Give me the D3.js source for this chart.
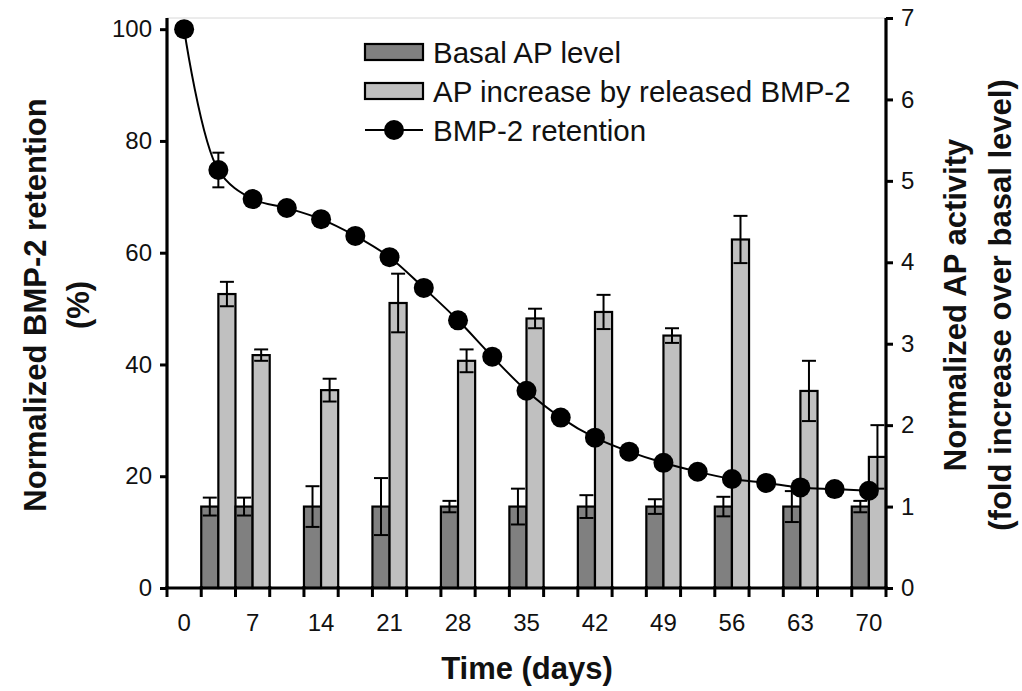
<!DOCTYPE html>
<html>
<head>
<meta charset="utf-8">
<script src="https://cdn.jsdelivr.net/npm/d3@7"></script>
<style>
  body { margin: 0; background: #fff; }
  text { font-family: "Liberation Sans", Arial, sans-serif; fill: #111; }
</style>
</head>
<body>
<div id="chart-area"></div>
<script>
// categories (days), only every second one gets a label
var days = ["0","3","7","10","14","17","21","24","28","31","35","38","42","45","49","52","56","59","63","66","70"];
var dayLabels = ["0","7","14","21","28","35","42","49","56","63","70"];

// BMP-2 retention (%), left axis
var retention = [100, 74.8, 69.6, 68.0, 66.0, 63.0, 59.2, 53.7, 47.9, 41.4, 35.3, 30.5, 26.9, 24.4, 22.4, 20.8, 19.5, 18.8, 18.0, 17.7, 17.4];
var retentionErr = [0, 3.1, 0, 0, 0, 0, 0, 0, 0, 0, 0, 0, 0, 0, 0, 0, 0, 0, 0, 0, 0];

// AP activity (fold over basal), right axis
var barDays = ["3","7","14","21","28","35","42","49","56","63","70"];
var basal = [1, 1, 1, 1, 1, 1, 1, 1, 1, 1, 1];
var basalErr = [0.11, 0.11, 0.25, 0.35, 0.07, 0.22, 0.14, 0.09, 0.12, 0.19, 0.07];
var increase = [3.61, 2.86, 2.43, 3.50, 2.79, 3.31, 3.39, 3.10, 4.28, 2.42, 1.61];
var increaseErr = [0.15, 0.07, 0.14, 0.36, 0.14, 0.12, 0.21, 0.09, 0.29, 0.37, 0.39];

var leftTicks = [0, 20, 40, 60, 80, 100];
var rightTicks = [0, 1, 2, 3, 4, 5, 6, 7];

var width = 1022, height = 691;
var plotL = 167, plotR = 886, plotT = 18, plotB = 588;

var svg = d3.select("#chart-area").append("svg")
    .attr("width", width)
    .attr("height", height);

var x = d3.scaleBand().domain(days).range([plotL, plotR]).padding(0);
var xSub = d3.scaleBand().domain(["basal", "increase"]).range([0, x.bandwidth()]).padding(0);
var yL = d3.scaleLinear().domain([0, 102]).range([plotB, plotT]);
var yR = d3.scaleLinear().domain([0, 7]).range([plotB, plotT]);

// faint plot border on top
svg.append("line")
    .attr("x1", plotL).attr("x2", plotR)
    .attr("y1", plotT).attr("y2", plotT)
    .attr("stroke", "#d8d8d8").attr("stroke-width", 1);

// bars
var bars = barDays.map(function(d, i) {
    return [
        {day: d, key: "basal", v: basal[i], e: basalErr[i], fill: "#808080"},
        {day: d, key: "increase", v: increase[i], e: increaseErr[i], fill: "#c0c0c0"}
    ];
}).flat();

svg.selectAll("rect.bar")
    .data(bars)
    .enter()
    .append("rect")
    .attr("class", "bar")
    .attr("x", function(d) { return x(d.day) + xSub(d.key); })
    .attr("y", function(d) { return yR(d.v); })
    .attr("width", xSub.bandwidth())
    .attr("height", function(d) { return yR(0) - yR(d.v); })
    .attr("fill", function(d) { return d.fill; })
    .attr("stroke", "#000")
    .attr("stroke-width", 2.2);

// error bars on bars
var errG = svg.selectAll("g.err")
    .data(bars)
    .enter()
    .append("g")
    .attr("class", "err")
    .attr("transform", function(d) { return "translate(" + (x(d.day) + xSub(d.key) + xSub.bandwidth() / 2) + ",0)"; });

errG.append("line")
    .attr("y1", function(d) { return yR(d.v + d.e); })
    .attr("y2", function(d) { return yR(d.v - d.e); })
    .attr("stroke", "#000").attr("stroke-width", 2);
errG.append("line")
    .attr("x1", -7).attr("x2", 7)
    .attr("y1", function(d) { return yR(d.v + d.e); })
    .attr("y2", function(d) { return yR(d.v + d.e); })
    .attr("stroke", "#000").attr("stroke-width", 2);
errG.append("line")
    .attr("x1", -7).attr("x2", 7)
    .attr("y1", function(d) { return yR(d.v - d.e); })
    .attr("y2", function(d) { return yR(d.v - d.e); })
    .attr("stroke", "#000").attr("stroke-width", 2);

// retention line
var line = d3.line()
    .x(function(d, i) { return x(days[i]) + x.bandwidth() / 2; })
    .y(function(d) { return yL(d); })
    .curve(d3.curveCatmullRom.alpha(0.5));

svg.append("path")
    .datum(retention)
    .attr("d", line)
    .attr("fill", "none")
    .attr("stroke", "#000")
    .attr("stroke-width", 2);

var retG = svg.selectAll("g.ret")
    .data(retention)
    .enter()
    .append("g")
    .attr("class", "ret")
    .attr("transform", function(d, i) { return "translate(" + (x(days[i]) + x.bandwidth() / 2) + ",0)"; });

retG.each(function(d, i) {
    var e = retentionErr[i];
    if (!e) return;
    var g = d3.select(this);
    g.append("line").attr("y1", yL(d + e)).attr("y2", yL(d - e)).attr("stroke", "#000").attr("stroke-width", 2);
    g.append("line").attr("x1", -6).attr("x2", 6).attr("y1", yL(d + e)).attr("y2", yL(d + e)).attr("stroke", "#000").attr("stroke-width", 2);
    g.append("line").attr("x1", -6).attr("x2", 6).attr("y1", yL(d - e)).attr("y2", yL(d - e)).attr("stroke", "#000").attr("stroke-width", 2);
});

retG.append("circle")
    .attr("cy", function(d) { return yL(d); })
    .attr("r", 10)
    .attr("fill", "#000");

// axes
var axisL = svg.append("g")
    .attr("transform", "translate(" + plotL + ",0)")
    .call(d3.axisLeft(yL).tickValues(leftTicks).tickSize(7).tickPadding(8));
var axisR = svg.append("g")
    .attr("transform", "translate(" + plotR + ",0)")
    .call(d3.axisRight(yR).tickValues(rightTicks).tickSize(7).tickPadding(8).tickFormat(d3.format("d")));
var axisB = svg.append("g")
    .attr("transform", "translate(0," + plotB + ")")
    .call(d3.axisBottom(x).tickSize(0).tickPadding(26)
        .tickFormat(function(d) { return dayLabels.indexOf(d) >= 0 ? d : ""; }));

// bottom ticks sit on category edges
var edges = days.map(function(d) { return x(d); }).concat([x.range()[1]]);
svg.selectAll("line.edge")
    .data(edges)
    .enter()
    .append("line")
    .attr("class", "edge")
    .attr("x1", function(d) { return d; })
    .attr("x2", function(d) { return d; })
    .attr("y1", plotB - 2)
    .attr("y2", plotB + 9)
    .attr("stroke", "#000")
    .attr("stroke-width", 3);

[axisL, axisR, axisB].forEach(function(a) {
    a.select(".domain").attr("stroke", "#000").attr("stroke-width", 3.2);
    a.selectAll(".tick line").attr("stroke", "#000").attr("stroke-width", 3);
    a.selectAll(".tick text").attr("font-size", "24px").attr("fill", "#111")
        .style("font-family", "'Liberation Sans', Arial, sans-serif");
});
axisL.select(".domain").attr("d", "M0," + plotT + "V" + plotB);
axisR.select(".domain").attr("d", "M0," + plotT + "V" + plotB);
axisB.select(".domain").attr("d", "M" + plotL + ",0H" + plotR);

// axis titles
function title(t, tx, ty, rot) {
    svg.append("text")
        .attr("transform", "translate(" + tx + "," + ty + ")" + (rot ? " rotate(-90)" : ""))
        .attr("text-anchor", "middle").attr("dominant-baseline", "central")
        .attr("font-size", "31px").attr("font-weight", "bold")
        .text(t);
}
title("Normalized BMP-2 retention", 35, 305, true);
title("(%)", 78, 305, true);
title("Normalized AP activity", 955, 305, true);
title("(fold increase over basal level)", 1000, 305, true);
title("Time (days)", 527, 668, false);

// legend
var legendItems = ["Basal AP level", "AP increase by released BMP-2", "BMP-2 retention"];
var legendFills = ["#808080", "#c0c0c0", null];
var lg = svg.selectAll("g.legend")
    .data(legendItems)
    .enter()
    .append("g")
    .attr("class", "legend")
    .attr("transform", function(d, i) { return "translate(365," + (52 + i * 39) + ")"; });

lg.each(function(d, i) {
    var g = d3.select(this);
    if (legendFills[i]) {
        g.append("rect")
            .attr("x", 0).attr("y", -8)
            .attr("width", 58).attr("height", 16)
            .attr("fill", legendFills[i])
            .attr("stroke", "#000").attr("stroke-width", 2.2);
    } else {
        g.append("line").attr("x1", 0).attr("x2", 58).attr("stroke", "#000").attr("stroke-width", 2);
        g.append("circle").attr("cx", 29).attr("r", 10).attr("fill", "#000");
    }
});

lg.append("text")
    .attr("x", 68)
    .attr("dominant-baseline", "central")
    .attr("font-size", "29.5px")
    .text(function(d) { return d; });
</script>
</body>
</html>
